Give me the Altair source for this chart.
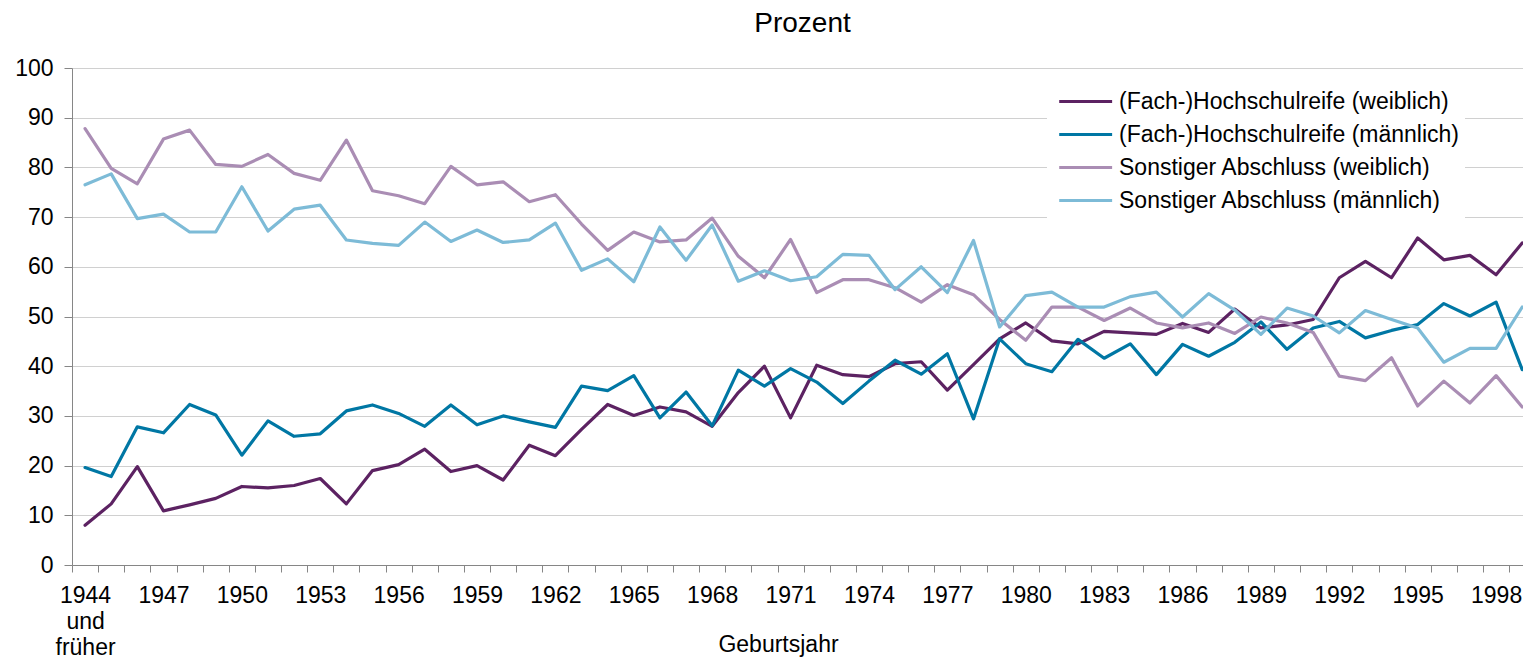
import altair as alt
import pandas as pd

years = list(range(1944, 2000))
label_years = list(range(1944, 2000, 3))

series_names = [
    "(Fach-)Hochschulreife (weiblich)",
    "(Fach-)Hochschulreife (männlich)",
    "Sonstiger Abschluss (weiblich)",
    "Sonstiger Abschluss (männlich)",
]
colors = ["#5c2262", "#0077a4", "#aa8db4", "#7dbbd7"]

hsr_w = [8.0, 12.3, 19.8, 10.9, 12.1, 13.4, 15.8, 15.5, 16.0, 17.4,
         12.3, 19.0, 20.2, 23.3, 18.8, 20.0, 17.1, 24.1, 22.0, 27.3,
         32.3, 30.1, 31.8, 30.8, 27.9, 34.7, 40.0, 29.6, 40.2, 38.3,
         37.9, 40.5, 40.9, 35.2, 40.3, 45.5, 48.7, 45.1, 44.5, 47.0,
         46.7, 46.4, 48.6, 46.8, 51.5, 47.7, 48.3, 49.4, 57.8, 61.1,
         57.8, 65.8, 61.4, 62.3, 58.4, 64.8]
hsr_m = [19.6, 17.8, 27.8, 26.6, 32.3, 30.2, 22.1, 29.0, 25.9, 26.4,
         31.0, 32.2, 30.5, 27.9, 32.2, 28.2, 30.0, 28.8, 27.7, 36.0,
         35.1, 38.1, 29.6, 34.8, 28.0, 39.2, 36.0, 39.5, 36.8, 32.5,
         37.0, 41.2, 38.4, 42.5, 29.4, 45.5, 40.5, 38.9, 45.4, 41.6,
         44.5, 38.3, 44.4, 42.0, 44.8, 48.9, 43.4, 47.7, 49.0, 45.7,
         47.2, 48.4, 52.6, 50.1, 52.9, 39.3]
sonst_w = [87.8, 79.8, 76.7, 85.7, 87.5, 80.6, 80.2, 82.6, 78.8, 77.4,
           85.5, 75.3, 74.3, 72.7, 80.2, 76.5, 77.1, 73.1, 74.5, 68.6,
           63.3, 67.0, 65.0, 65.4, 69.8, 62.1, 57.8, 65.5, 54.8, 57.4,
           57.4, 55.8, 52.9, 56.4, 54.4, 49.4, 45.2, 51.9, 51.9, 49.2,
           51.7, 48.7, 47.7, 48.7, 46.6, 49.9, 48.7, 46.8, 38.0, 37.1,
           41.7, 32.0, 37.0, 32.6, 38.1, 31.8]
sonst_m = [76.5, 78.7, 69.7, 70.6, 67.0, 67.0, 76.1, 67.2, 71.6, 72.4,
           65.4, 64.7, 64.3, 69.0, 65.1, 67.4, 64.9, 65.4, 68.8, 59.3,
           61.6, 57.0, 68.0, 61.3, 68.4, 57.1, 59.2, 57.2, 58.0, 62.5,
           62.3, 55.4, 60.0, 54.8, 65.3, 47.9, 54.2, 54.9, 51.9, 51.9,
           54.0, 54.9, 49.9, 54.6, 51.3, 46.4, 51.7, 50.1, 46.7, 51.2,
           49.4, 47.7, 40.8, 43.6, 43.6, 51.9]

rows = []
for k, (name, vals) in enumerate(zip(series_names, [hsr_w, hsr_m, sonst_w, sonst_m])):
    for yr, v in zip(years, vals):
        rows.append({"Jahr": yr, "Wert": v, "Reihe": name, "k": k})
df = pd.DataFrame(rows)

FONT = "Liberation Sans"
AX = "#868686"
W = 1451
H = 497
x_dom = [1943.5, 1999.03]
half = W / (x_dom[1] - x_dom[0]) / 2

lbl_list = ",".join(str(v) for v in label_years)
label_expr = (
    "datum.value == 1944 ? ['1944','und','früher'] : "
    f"(indexof([{lbl_list}], datum.value) >= 0 ? format(datum.value, 'd') : '')"
)

chart = alt.Chart(df).mark_line(
    strokeWidth=3.2, strokeJoin="round", strokeCap="round"
).encode(
    x=alt.X(
        "Jahr:Q",
        scale=alt.Scale(domain=x_dom, nice=False, zero=False),
        axis=alt.Axis(
            values=years, format="d", labelExpr=label_expr,
            tickOffset=-half, labelOffset=half, grid=False,
            tickSize=7, tickColor=AX, domainColor=AX,
            labelFontSize=23, labelFont=FONT, labelColor="black",
            labelPadding=12, labelOverlap=False, labelFlush=False,
            labelLineHeight=26,
            title="Geburtsjahr", titleFontSize=23, titleFont=FONT,
            titleFontWeight="normal", titleColor="black",
            titleX=706, titleY=86, titleBaseline="alphabetic", titleAlign="center",
        ),
    ),
    y=alt.Y(
        "Wert:Q",
        scale=alt.Scale(domain=[0, 100], nice=False),
        axis=alt.Axis(
            values=list(range(0, 101, 10)), title=None,
            tickSize=8, tickColor=AX, domainColor=AX,
            grid=True, gridColor="#d0d0d0", gridWidth=1,
            labelFontSize=23, labelFont=FONT, labelColor="black",
            labelPadding=11,
        ),
    ),
    color=alt.Color(
        "Reihe:N",
        scale=alt.Scale(domain=series_names, range=colors),
        legend=alt.Legend(
            title=None, orient="none", legendX=975, legendY=16,
            symbolType="M-1,0L9,0", symbolSize=112, symbolStrokeWidth=3.2,
            labelFontSize=23, labelFont=FONT, labelColor="black",
            labelLimit=600, labelOffset=43, rowPadding=9, padding=6,
            fillColor="white",
        ),
    ),
    order=alt.Order("k:Q"),
).properties(
    width=W, height=H,
    title=alt.Title("Prozent", fontSize=28, font=FONT, fontWeight="normal",
                    color="black", anchor="middle", dx=5, offset=18, dy=21,
                    baseline="alphabetic"),
    autosize=alt.AutoSizeParams(type="none"),
    padding={"left": 64, "top": 60, "right": 0, "bottom": 94},
).configure_view(stroke=None)

chart.save("out.html", embed_options={"renderer": "svg", "actions": False})
